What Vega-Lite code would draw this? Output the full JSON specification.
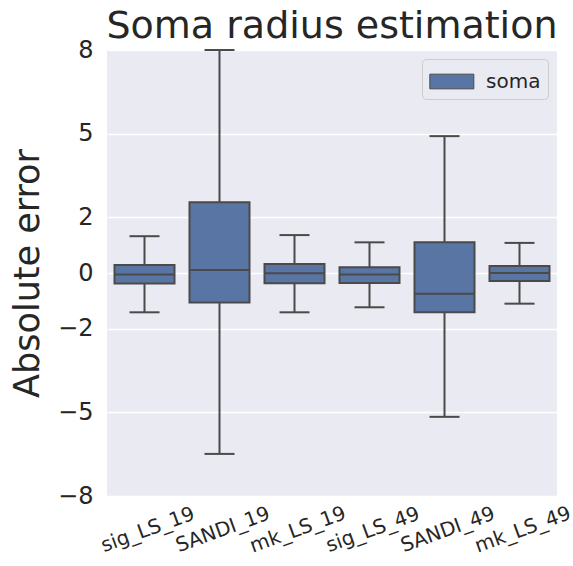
{
  "$schema": "https://vega.github.io/schema/vega-lite/v6.json",
  "width": 450,
  "height": 446,
  "autosize": {"type": "none"},
  "padding": {"left": 107, "top": 50, "right": 16, "bottom": 70},
  "background": "white",
  "title": {
    "text": "Soma radius estimation",
    "fontSize": 38,
    "font": "DejaVu Sans",
    "fontWeight": "normal",
    "color": "#262626",
    "anchor": "middle",
    "offset": -8
  },
  "data": {
    "values": [
      {"method": "sig_LS_19", "series": "soma", "lo": -1.41, "q1": -0.38, "med": -0.05, "q3": 0.29, "hi": 1.32},
      {"method": "SANDI_19", "series": "soma", "lo": -6.49, "q1": -1.06, "med": 0.11, "q3": 2.54, "hi": 8.0},
      {"method": "mk_LS_19", "series": "soma", "lo": -1.41, "q1": -0.37, "med": -0.01, "q3": 0.32, "hi": 1.36},
      {"method": "sig_LS_49", "series": "soma", "lo": -1.23, "q1": -0.36, "med": -0.05, "q3": 0.21, "hi": 1.1},
      {"method": "SANDI_49", "series": "soma", "lo": -5.16, "q1": -1.41, "med": -0.74, "q3": 1.1, "hi": 4.91},
      {"method": "mk_LS_49", "series": "soma", "lo": -1.1, "q1": -0.29, "med": 0.0, "q3": 0.25, "hi": 1.08}
    ]
  },
  "encoding": {
    "x": {
      "field": "method",
      "type": "nominal",
      "sort": null,
      "scale": {"paddingInner": 0, "paddingOuter": 0},
      "axis": {
        "title": null,
        "domain": false,
        "ticks": false,
        "labelAngle": -20,
        "labelAlign": "center",
        "labelBaseline": "top",
        "labelFontSize": 20,
        "labelPadding": 24,
        "labelFont": "DejaVu Sans",
        "labelColor": "#262626",
        "labelBound": false,
        "grid": false
      }
    }
  },
  "layer": [
    {
      "mark": {"type": "rule", "color": "#4a4a4a", "strokeWidth": 2},
      "encoding": {
        "y": {
          "field": "lo",
          "type": "quantitative",
          "scale": {"domain": [-8, 8], "nice": false, "zero": false},
          "axis": {
            "title": "Absolute error",
            "titleFontSize": 35,
            "titleFont": "DejaVu Sans",
            "titleFontWeight": "normal",
            "titleColor": "#262626",
            "titlePadding": 12,
            "values": [-8, -5, -2, 0, 2, 5, 8],
            "labelExpr": "datum.value < 0 ? '\u2212' + toString(abs(datum.value)) : toString(datum.value)",
            "labelFontSize": 24,
            "labelFont": "DejaVu Sans",
            "labelColor": "#262626",
            "labelPadding": 14,
            "ticks": false,
            "domain": false,
            "grid": true,
            "gridColor": "white",
            "gridWidth": 1.5
          }
        },
        "y2": {"field": "q1"}
      }
    },
    {
      "mark": {"type": "rule", "color": "#4a4a4a", "strokeWidth": 2},
      "encoding": {
        "y": {"field": "q3", "type": "quantitative"},
        "y2": {"field": "hi"}
      }
    },
    {
      "mark": {"type": "tick", "color": "#4a4a4a", "size": 30, "thickness": 2, "opacity": 1},
      "encoding": {"y": {"field": "lo", "type": "quantitative"}}
    },
    {
      "mark": {"type": "tick", "color": "#4a4a4a", "size": 30, "thickness": 2, "opacity": 1},
      "encoding": {"y": {"field": "hi", "type": "quantitative"}}
    },
    {
      "mark": {"type": "bar", "width": {"band": 0.8}, "stroke": "#4a4a4a", "strokeWidth": 2, "opacity": 1},
      "encoding": {
        "y": {"field": "q1", "type": "quantitative"},
        "y2": {"field": "q3"},
        "color": {
          "field": "series",
          "type": "nominal",
          "scale": {"domain": ["soma"], "range": ["#5875A4"]},
          "legend": {
            "title": null,
            "orient": "top-right",
            "offset": 9,
            "padding": 7,
            "fillColor": "#EAEAF2",
            "strokeColor": "#cccccc",
            "cornerRadius": 4,
            "symbolType": "M-1,-0.5H2V0.5H-1Z",
            "symbolSize": 861,
            "symbolStrokeColor": "#4a4a4a",
            "symbolStrokeWidth": 1,
            "symbolOpacity": 1,
            "labelFontSize": 20,
            "labelFont": "DejaVu Sans",
            "labelColor": "#262626",
            "labelOffset": 26
          }
        }
      }
    },
    {
      "mark": {"type": "tick", "color": "#4a4a4a", "size": 60, "thickness": 2, "opacity": 1},
      "encoding": {"y": {"field": "med", "type": "quantitative"}}
    }
  ],
  "config": {
    "view": {"fill": "#EAEAF2", "stroke": null}
  }
}
